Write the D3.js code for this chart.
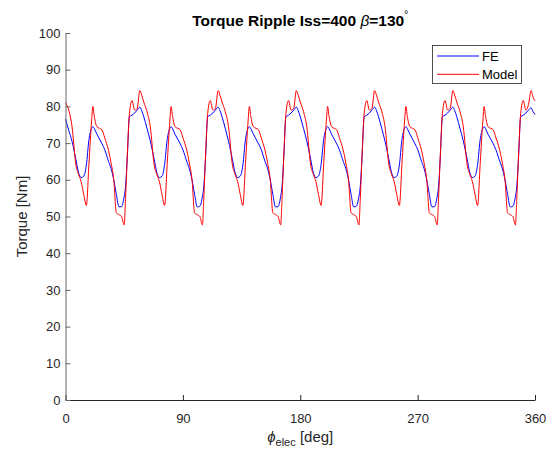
<!DOCTYPE html>
<html>
<head>
<meta charset="utf-8">
<script src="https://cdn.jsdelivr.net/npm/d3@7"></script>
<style>
  body { margin: 0; background: #fff; }
  svg { display: block; font-family: "Liberation Sans", Arial, sans-serif; }
</style>
</head>
<body>
<svg id="chart" width="546" height="450"></svg>
<script>
// electrical angle samples [deg]
const phi = [
  0, 2.5, 5, 8, 10, 12, 14, 16, 18, 20, 21, 22, 24, 28, 30, 33, 35, 37, 39, 41, 43, 45, 46, 47.5, 49, 51, 53, 55, 57, 58.5,
  60, 62.5, 65, 68, 70, 72, 74, 76, 78, 80, 81, 82, 84, 88, 90, 93, 95, 97, 99, 101, 103, 105, 106, 107.5, 109, 111, 113, 115, 117, 118.5,
  120, 122.5, 125, 128, 130, 132, 134, 136, 138, 140, 141, 142, 144, 148, 150, 153, 155, 157, 159, 161, 163, 165, 166, 167.5, 169, 171, 173, 175, 177, 178.5,
  180, 182.5, 185, 188, 190, 192, 194, 196, 198, 200, 201, 202, 204, 208, 210, 213, 215, 217, 219, 221, 223, 225, 226, 227.5, 229, 231, 233, 235, 237, 238.5,
  240, 242.5, 245, 248, 250, 252, 254, 256, 258, 260, 261, 262, 264, 268, 270, 273, 275, 277, 279, 281, 283, 285, 286, 287.5, 289, 291, 293, 295, 297, 298.5,
  300, 302.5, 305, 308, 310, 312, 314, 316, 318, 320, 321, 322, 324, 328, 330, 333, 335, 337, 339, 341, 343, 345, 346, 347.5, 349, 351, 353, 355, 357, 358.5,
  360
];

// FE torque [Nm]
const feTorque = [
  76.5, 73.5, 70.5, 65.5, 62, 60.6, 61, 64, 71, 74, 74.5, 74, 72.5, 69.8, 68.3, 65, 63, 60, 56, 52.6, 52.7, 55.5, 58, 67, 77.2, 77.6, 78.2, 79, 79.8, 78.8,
  77.2, 74, 70.6, 65.6, 62, 60.6, 61, 64.2, 71, 74, 74.5, 74, 72.4, 69.8, 68.2, 65, 63, 60, 56, 52.6, 52.8, 55.5, 58, 67, 77.2, 77.6, 78.2, 79, 79.8, 78.8,
  77.2, 74, 70.5, 65.5, 62, 60.6, 61, 64, 71, 74, 74.5, 74, 72.5, 69.8, 68.3, 65, 63, 60, 56, 52.6, 52.7, 55.5, 58, 67, 77.2, 77.6, 78.2, 79, 79.8, 78.8,
  77.2, 74, 70.6, 65.6, 62, 60.6, 61, 64.2, 71, 74, 74.5, 74, 72.4, 69.8, 68.2, 65, 63, 60, 56, 52.6, 52.8, 55.5, 58, 67, 77.2, 77.6, 78.2, 79, 79.8, 78.8,
  77.2, 74, 70.5, 65.5, 62, 60.6, 61, 64, 71, 74, 74.5, 74, 72.5, 69.8, 68.3, 65, 63, 60, 56, 52.6, 52.7, 55.5, 58, 67, 77.2, 77.6, 78.2, 79, 79.8, 78.8,
  77.2, 74, 70.6, 65.6, 62, 60.6, 61, 64.2, 71, 74, 74.5, 74, 72.4, 69.8, 68.2, 65, 63, 60, 56, 52.6, 52.8, 55.5, 58, 67, 77.2, 77.6, 78.2, 79, 79.6, 78.6,
  77.8
];

// analytical model torque [Nm]
const modelTorque = [
  81, 79, 74.5, 64, 61.5, 59.5, 56, 53, 64.5, 76, 80, 77.5, 74.5, 73.6, 71.5, 68, 64.5, 60, 51, 50.5, 50, 47.7, 54.6, 67.6, 78, 81.6, 79, 79.5, 84.3, 83,
  81.2, 78.6, 74.5, 64, 61.5, 59.5, 56, 53, 64.5, 76, 80, 77.5, 74.5, 73.6, 71.5, 68, 64.5, 60, 51, 50.5, 50, 47.7, 54.6, 67.6, 78, 81.6, 79, 79.5, 84.3, 83,
  81.2, 78.6, 74.5, 64, 61.5, 59.5, 56, 53, 64.5, 76, 80, 77.5, 74.5, 73.6, 71.5, 68, 64.5, 60, 51, 50.5, 50, 47.7, 54.6, 67.6, 78, 81.6, 79, 79.5, 84.3, 83,
  81.2, 78.6, 74.5, 64, 61.5, 59.5, 56, 53, 64.5, 76, 80, 77.5, 74.5, 73.6, 71.5, 68, 64.5, 60, 51, 50.5, 50, 47.7, 54.6, 67.6, 78, 81.6, 79, 79.5, 84.3, 83,
  81.2, 78.6, 74.5, 64, 61.5, 59.5, 56, 53, 64.5, 76, 80, 77.5, 74.5, 73.6, 71.5, 68, 64.5, 60, 51, 50.5, 50, 47.7, 54.6, 67.6, 78, 81.6, 79, 79.5, 84.3, 83,
  81.2, 78.6, 74.5, 64, 61.5, 59.5, 56, 53, 64.5, 76, 80, 77.5, 74.5, 73.6, 71.5, 68, 64.5, 60, 51, 50.5, 50, 47.7, 54.6, 67.6, 78, 81.6, 79, 80.5, 84.3, 82.5,
  81.5
];

const seriesNames = ["FE", "Model"];
const seriesColors = ["#0000ff", "#ff0000"];
const xTicks = [0, 90, 180, 270, 360];
const yTicks = [0, 10, 20, 30, 40, 50, 60, 70, 80, 90, 100];

const margin = { top: 33, right: 11, bottom: 50, left: 65.5 };
const svg = d3.select("#chart");
const width = 546 - margin.left - margin.right;
const height = 450 - margin.top - margin.bottom;
const axisColor = "#262626";

const x = d3.scaleLinear().domain([0, 360]).range([0, width]);
const y = d3.scaleLinear().domain([0, 100]).range([height, 0]);

const plot = svg.append("g")
  .attr("transform", `translate(${margin.left},${margin.top})`);

// series lines
const series = [feTorque, modelTorque];
const line = d3.line()
  .x((d, i) => x(phi[i]))
  .y(d => y(d))
  .curve(d3.curveMonotoneX);

plot.selectAll("path.series")
  .data(series)
  .join("path")
  .attr("class", "series")
  .attr("fill", "none")
  .attr("stroke", (d, i) => seriesColors[i])
  .attr("stroke-width", 1)
  .attr("d", line);

// axes, MATLAB style: ticks pointing inward
const xAxis = plot.append("g")
  .attr("transform", `translate(0,${height})`)
  .call(d3.axisBottom(x).tickValues(xTicks).tickSizeInner(-5).tickSizeOuter(0).tickPadding(14));

const yAxis = plot.append("g")
  .call(d3.axisLeft(y).tickValues(yTicks).tickSizeInner(-5).tickSizeOuter(0).tickPadding(5));

[xAxis, yAxis].forEach(g => {
  g.select(".domain").attr("stroke", axisColor);
  g.selectAll(".tick line").attr("stroke", axisColor);
  g.selectAll(".tick text")
    .attr("fill", axisColor)
    .style("font-size", "13px")
    .style("font-family", "'Liberation Sans', Arial, sans-serif");
});
yAxis.selectAll(".domain, .tick line").attr("stroke", "#666");

// title
const title = svg.append("text")
  .attr("x", margin.left + width / 2)
  .attr("y", 26)
  .attr("text-anchor", "middle")
  .attr("fill", "#000")
  .style("font-size", "15.5px")
  .style("font-weight", "bold");
title.append("tspan").text("Torque Ripple Iss=400 ");
title.append("tspan").style("font-style", "italic").style("font-weight", "normal").text("β");
title.append("tspan").text("=130");
title.append("tspan").attr("dy", -8).style("font-size", "10px").style("font-weight", "normal").text("°");

// axis labels
svg.append("text")
  .attr("transform", `translate(22,${margin.top + height / 2}) rotate(-90)`)
  .attr("text-anchor", "middle")
  .attr("dy", "0.35em")
  .attr("fill", axisColor)
  .style("font-size", "15px")
  .text("Torque [Nm]");

const xLabel = svg.append("text")
  .attr("x", margin.left + width / 2)
  .attr("y", 442)
  .attr("text-anchor", "middle")
  .attr("fill", axisColor)
  .style("font-size", "15px");
xLabel.append("tspan").style("font-style", "italic").text("ϕ");
xLabel.append("tspan").attr("dy", 4).style("font-size", "11px").text("elec");
xLabel.append("tspan").attr("dy", -4).text(" [deg]");

// legend
const legend = svg.append("g").attr("transform", "translate(432.5,45.5)");
legend.append("rect")
  .attr("width", 89)
  .attr("height", 38)
  .attr("fill", "#fff")
  .attr("stroke", axisColor)
  .attr("stroke-width", 0.8);

const items = legend.selectAll("g.item")
  .data(seriesNames)
  .join("g")
  .attr("class", "item")
  .attr("transform", (d, i) => `translate(0,${10.5 + i * 18.3})`);

items.append("line")
  .attr("x1", 4.5).attr("x2", 46.5)
  .attr("stroke", (d, i) => seriesColors[i])
  .attr("stroke-width", 1);

items.append("text")
  .attr("x", 49.5)
  .attr("dy", "0.35em")
  .attr("fill", "#000")
  .style("font-size", "13px")
  .text(d => d);
</script>
</body>
</html>
